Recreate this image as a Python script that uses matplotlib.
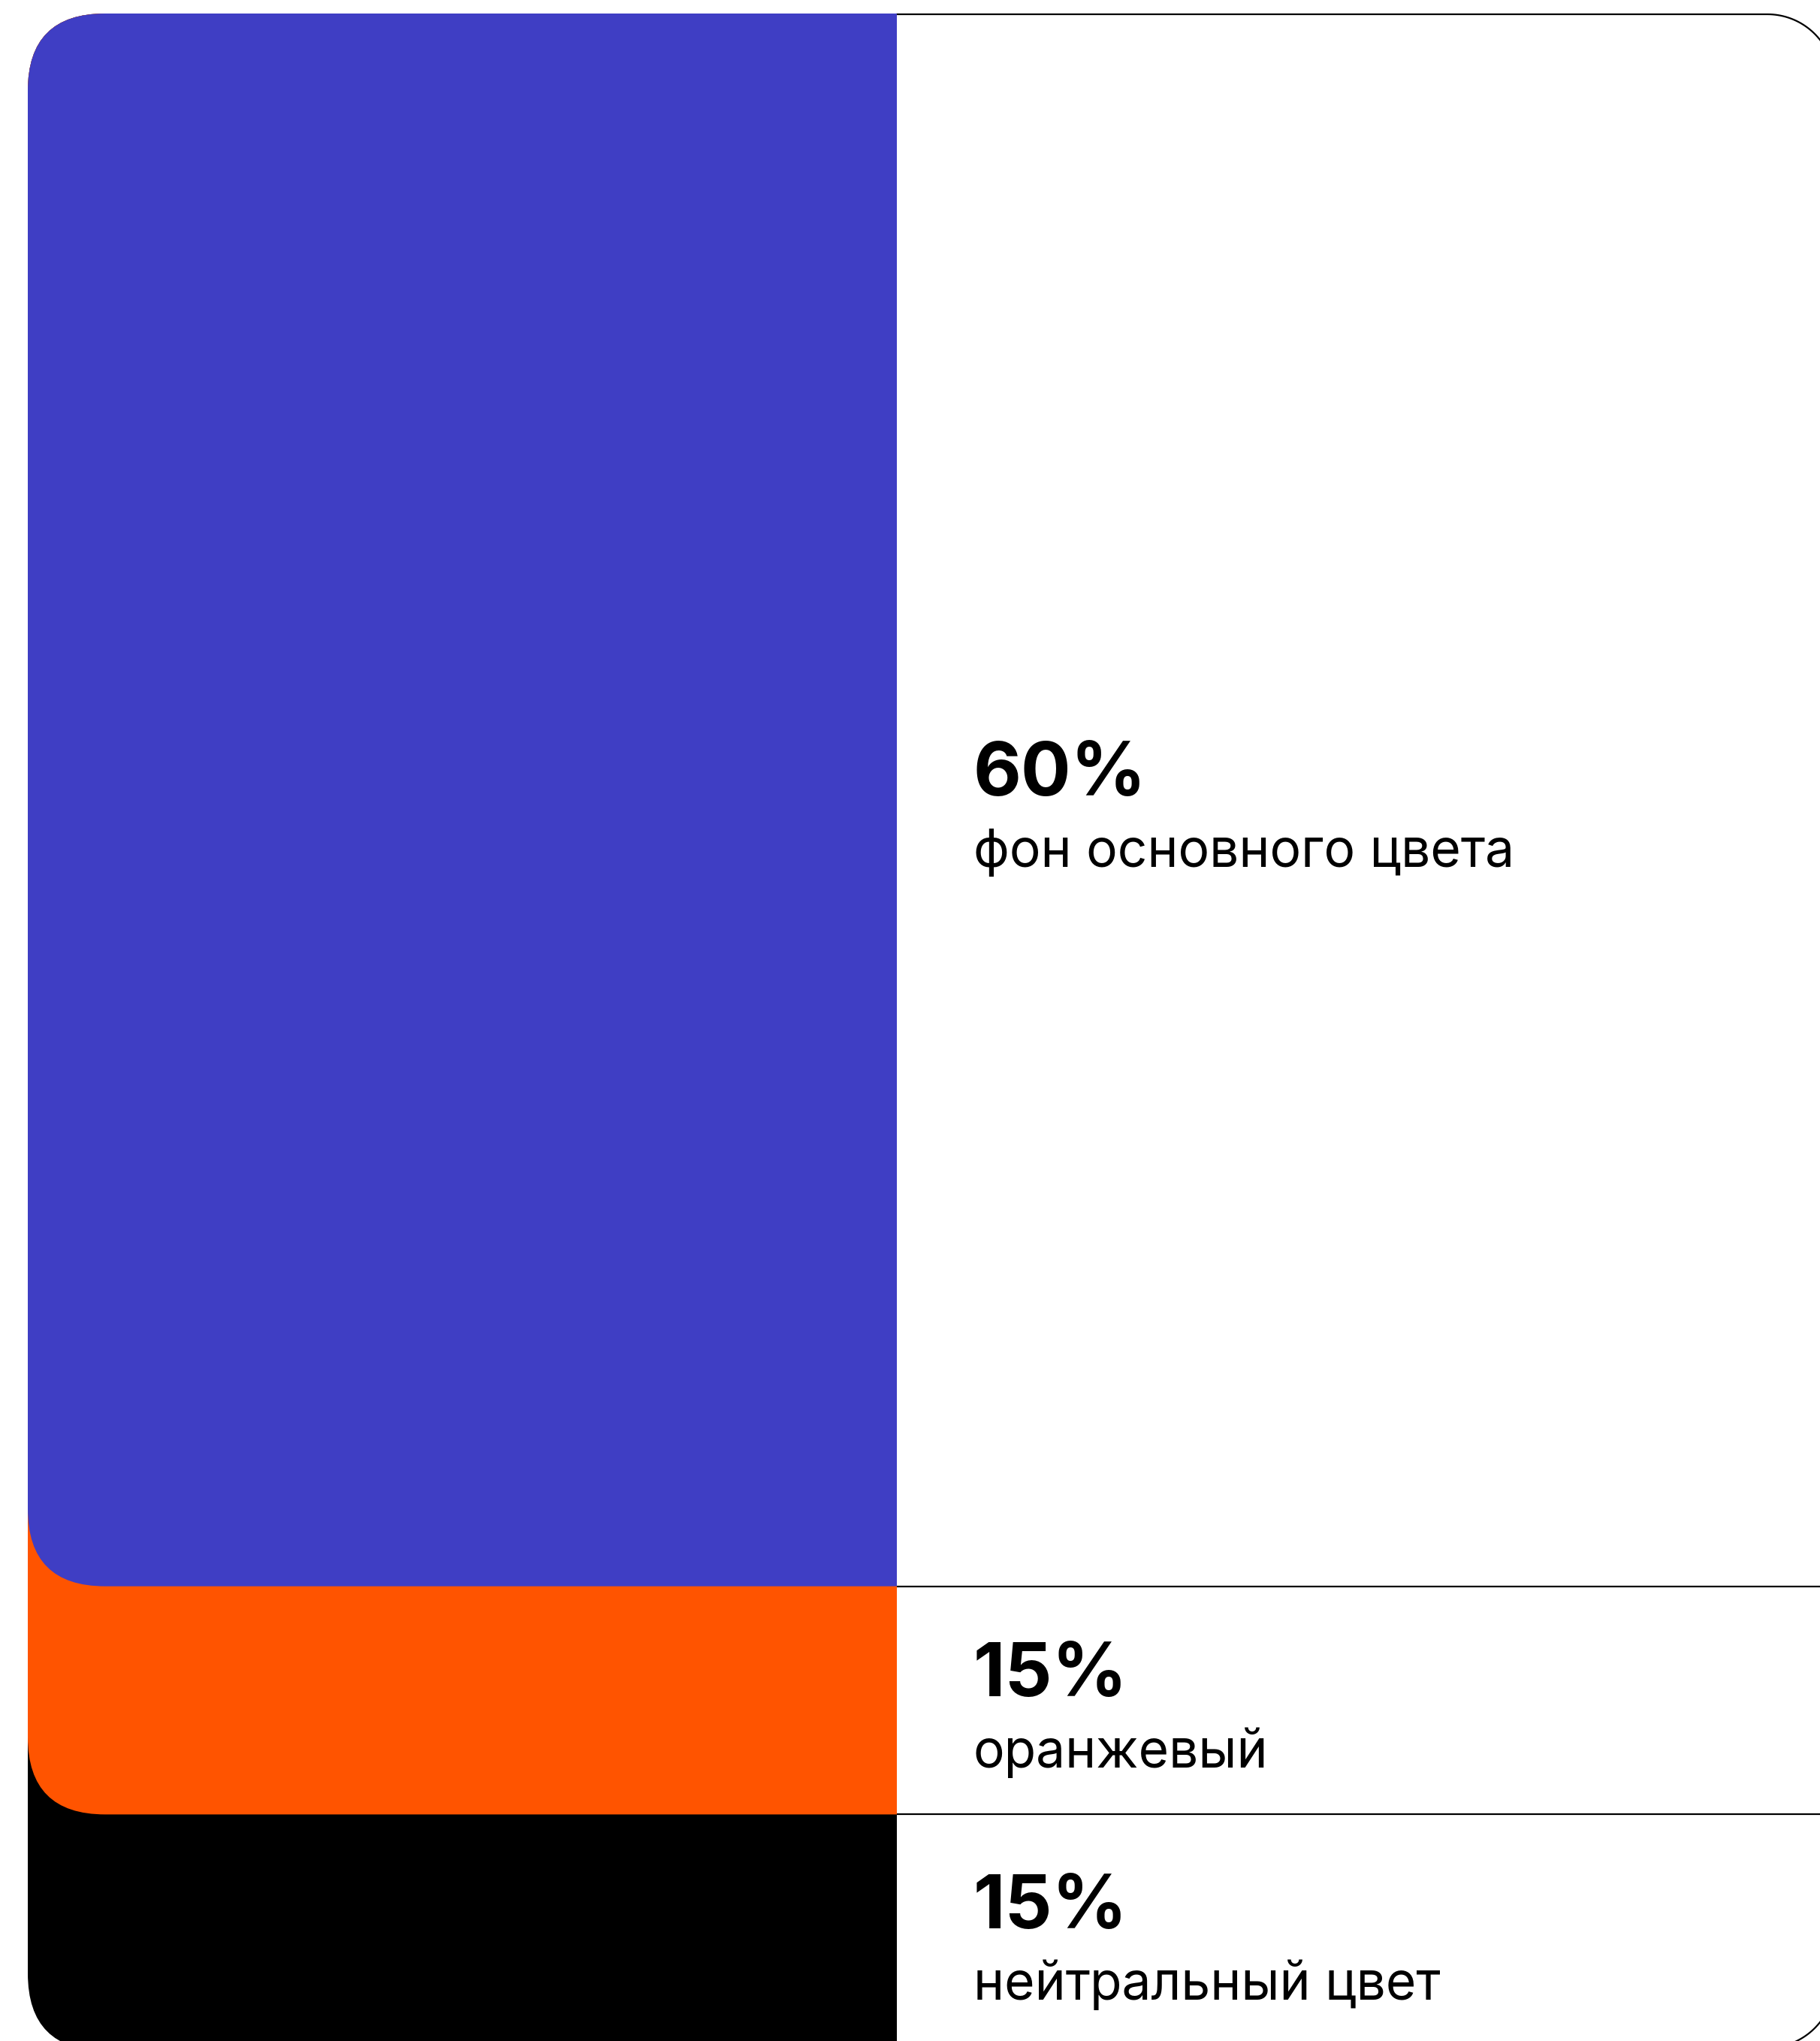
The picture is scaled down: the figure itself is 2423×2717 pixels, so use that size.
import matplotlib
matplotlib.use("Agg")
import matplotlib.pyplot as plt
from matplotlib.patches import FancyBboxPatch, Rectangle
import numpy as np

# segment data, top to bottom
shares = ["60%", "15%", "15%"]
descriptions = ["фон основного цвета", "оранжевый", "нейтральный цвет"]
heights = [77.2, 11.2, 11.6]   # visual bar lengths (sum 100)
colors = ["#3F3EC4", "#FF5400", "#000000"]

W, H, DPI = 2423, 2717, 100
PX = 27.12          # pixels per data unit
X0, Y0 = 37, 18     # pixel position of the bar's top-left corner

plt.rcParams["font.family"] = ["Inter", "DejaVu Sans"]

fig = plt.figure(figsize=(W / DPI, H / DPI), dpi=DPI)
ax = fig.add_axes([0, 0, 1, 1])
ax.set_xlim(-X0 / PX, (W - X0) / PX)
ax.set_ylim((H - Y0) / PX, -Y0 / PX)
ax.axis("off")

col_w = (1194 - X0) / PX
r_col = 103 / PX
r_box = 89 / PX
box_w = (2442 - X0) / PX
box_h = (2726 - Y0) / PX
box_top = 1 / PX

# right part of the rounded frame, as a polyline (runs off the right edge)
t = np.linspace(0, np.pi / 2, 40)
top_arc_x = box_w - r_box + r_box * np.sin(t)
top_arc_y = box_top + r_box - r_box * np.cos(t)
bot_arc_x = box_w - r_box + r_box * np.cos(t)
bot_arc_y = box_h - r_box + r_box * np.sin(t)
frame_x = np.concatenate([[col_w], top_arc_x, bot_arc_x, [col_w]])
frame_y = np.concatenate([[box_top], top_arc_y, bot_arc_y, [box_h]])
ax.plot(frame_x, frame_y, color="black", linewidth=1.6, zorder=1)

bottoms = np.cumsum(heights)
clip = Rectangle((0, 0), col_w, 200, transform=ax.transData)
# draw from the bottom segment upward so upper ones overlap
for i in reversed(range(len(heights))):
    seg = FancyBboxPatch((0, 0), col_w + 10, bottoms[i],
                         boxstyle=f"round,pad=0,rounding_size={r_col}",
                         facecolor=colors[i], edgecolor="none", zorder=2)
    ax.add_patch(seg)
    seg.set_clip_path(clip)

# separators between segments
for b in bottoms[:-1]:
    ax.plot([col_w, box_w], [b, b], color="black", linewidth=1.6, zorder=1,
            solid_capstyle="butt")

text_x = (1296 - X0) / PX
tops = np.concatenate([[0], bottoms[:-1]])
for top, bot, s, d in zip(tops, bottoms, shares, descriptions):
    mid = (top + bot) / 2
    ax.text(text_x, mid - 0.2, s, fontsize=71, fontweight="bold",
            va="baseline", ha="left", color="black")
    ax.text(text_x, mid + 3.3, d, fontsize=50,
            va="baseline", ha="left", color="black")

fig.savefig("out.png", dpi=DPI)
